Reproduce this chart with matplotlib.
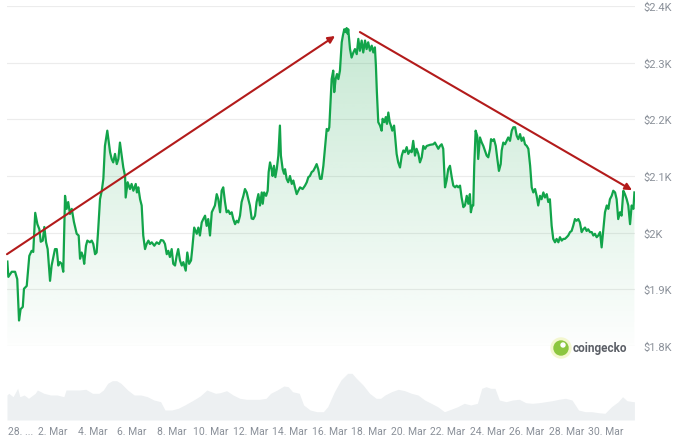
import matplotlib
matplotlib.use("Agg")
import matplotlib.pyplot as plt
import matplotlib.transforms as mtransforms
import numpy as np
from matplotlib.colors import to_rgb
from matplotlib.patches import Ellipse

# price, hourly-ish samples: day offset from 28 Feb 00:00, USD
days = [
    -0.31, -0.26, -0.09, 0.08, 0.19, 0.28, 0.36, 0.47, 0.53, 0.67,
    0.80, 0.92, 1.00, 1.10, 1.21, 1.31, 1.38, 1.48, 1.56, 1.65,
    1.73, 1.85, 1.93, 2.02, 2.10, 2.19, 2.27, 2.35, 2.44, 2.52,
    2.61, 2.69, 2.77, 2.86, 2.95, 3.06, 3.20, 3.30, 3.37, 3.45,
    3.53, 3.58, 3.67, 3.74, 3.87, 3.96, 4.04, 4.13, 4.21, 4.29,
    4.38, 4.47, 4.55, 4.63, 4.75, 4.89, 4.97, 5.05, 5.14, 5.23,
    5.31, 5.39, 5.48, 5.56, 5.65, 5.68, 5.78, 5.90, 5.98, 6.07,
    6.19, 6.25, 6.32, 6.41, 6.49, 6.57, 6.66, 6.74, 6.83, 6.91,
    7.00, 7.13, 7.25, 7.37, 7.47, 7.58, 7.67, 7.76, 7.84, 7.92,
    8.01, 8.09, 8.18, 8.26, 8.34, 8.43, 8.52, 8.60, 8.72, 8.80,
    8.89, 8.99, 9.05, 9.15, 9.28, 9.36, 9.44, 9.53, 9.61, 9.70,
    9.78, 9.86, 9.95, 10.04, 10.12, 10.20, 10.29, 10.37, 10.46, 10.54,
    10.62, 10.71, 10.79, 10.88, 10.96, 11.05, 11.13, 11.22, 11.30, 11.38,
    11.47, 11.55, 11.64, 11.72, 11.81, 11.89, 11.97, 12.06, 12.14, 12.23,
    12.31, 12.40, 12.48, 12.57, 12.62, 12.69, 12.79, 12.87, 12.92, 12.99,
    13.07, 13.12, 13.19, 13.26, 13.33, 13.41, 13.49, 13.54, 13.63, 13.70,
    13.75, 13.83, 13.91, 14.00, 14.09, 14.17, 14.25, 14.34, 14.42, 14.51,
    14.64, 14.76, 14.85, 14.93, 15.01, 15.10, 15.18, 15.27, 15.35, 15.43,
    15.52, 15.60, 15.69, 15.77, 15.86, 15.94, 15.99, 16.06, 16.11, 16.19,
    16.24, 16.31, 16.38, 16.45, 16.53, 16.62, 16.68, 16.75, 16.82, 16.87,
    16.92, 16.95, 17.04, 17.12, 17.21, 17.29, 17.38, 17.46, 17.54, 17.63,
    17.71, 17.80, 17.88, 17.96, 18.05, 18.14, 18.22, 18.30, 18.35, 18.40,
    18.47, 18.56, 18.64, 18.69, 18.78, 18.85, 18.91, 18.98, 19.05, 19.11,
    19.18, 19.27, 19.32, 19.40, 19.48, 19.57, 19.66, 19.74, 19.82, 19.91,
    19.99, 20.08, 20.16, 20.24, 20.33, 20.41, 20.50, 20.58, 20.67, 20.75,
    20.84, 20.92, 21.09, 21.26, 21.34, 21.43, 21.51, 21.59, 21.68, 21.76,
    21.85, 21.93, 22.01, 22.10, 22.19, 22.27, 22.36, 22.44, 22.52, 22.61,
    22.69, 22.78, 22.86, 22.95, 23.03, 23.11, 23.16, 23.23, 23.28, 23.33,
    23.40, 23.48, 23.53, 23.62, 23.71, 23.79, 23.87, 23.96, 24.04, 24.13,
    24.18, 24.26, 24.33, 24.42, 24.50, 24.58, 24.67, 24.72, 24.80, 24.89,
    24.97, 25.05, 25.14, 25.23, 25.31, 25.40, 25.48, 25.56, 25.65, 25.73,
    25.82, 25.90, 25.99, 26.07, 26.16, 26.24, 26.32, 26.41, 26.49, 26.57,
    26.66, 26.74, 26.83, 26.91, 27.00, 27.08, 27.16, 27.25, 27.33, 27.42,
    27.50, 27.59, 27.67, 27.76, 27.84, 27.92, 28.01, 28.09, 28.18, 28.26,
    28.34, 28.43, 28.51, 28.60, 28.68, 28.77, 28.85, 28.94, 29.02, 29.10,
    29.19, 29.28, 29.36, 29.44, 29.53, 29.61, 29.70, 29.78, 29.87, 29.95,
    30.04, 30.12, 30.20, 30.29, 30.37, 30.46, 30.54, 30.62, 30.71, 30.79,
    30.88, 30.96, 31.05, 31.13, 31.22, 31.30, 31.39, 31.44,
]
prices = [
    1949, 1922, 1931, 1931, 1918, 1845, 1865, 1869, 1901, 1906,
    1959, 1968, 1966, 2035, 2015, 2006, 1984, 1986, 2010, 1983,
    1971, 1915, 1942, 1957, 1971, 1971, 1942, 1948, 1945, 1931,
    2065, 2042, 2054, 2033, 2042, 2019, 1998, 1995, 1954, 1965,
    1957, 1945, 1977, 1986, 1983, 1986, 1980, 1962, 1965, 2006,
    2059, 2074, 2095, 2153, 2180, 2142, 2130, 2124, 2139, 2121,
    2130, 2159, 2136, 2115, 2100, 2062, 2089, 2077, 2086, 2074,
    2086, 2071, 2080, 2059, 2048, 1995, 1971, 1980, 1986, 1980,
    1983, 1977, 1983, 1980, 1987, 1986, 1980, 1962, 1968, 1957,
    1971, 1945, 1942, 1959, 1971, 1951, 1942, 1948, 1933, 1965,
    1945, 1951, 1971, 2009, 1998, 2009, 1995, 2018, 2024, 2030,
    2012, 2024, 1995, 2036, 2042, 2048, 2068, 2059, 2036, 2074,
    2080, 2054, 2036, 2039, 2033, 2036, 2024, 2015, 2021, 2018,
    2030, 2054, 2065, 2077, 2071, 2059, 2048, 2025, 2024, 2030,
    2054, 2068, 2048, 2071, 2051, 2071, 2065, 2074, 2107, 2124,
    2112, 2100, 2118, 2098, 2112, 2136, 2189, 2136, 2112, 2104,
    2112, 2095, 2089, 2100, 2086, 2092, 2080, 2068, 2074, 2080,
    2077, 2083, 2089, 2098, 2100, 2107, 2109, 2115, 2121, 2112,
    2095, 2095, 2118, 2148, 2183, 2180, 2186, 2236, 2271, 2286,
    2248, 2271, 2280, 2271, 2286, 2336, 2348, 2359, 2354, 2361,
    2351, 2359, 2324, 2309, 2318, 2324, 2315, 2342, 2321, 2339,
    2318, 2339, 2324, 2336, 2321, 2330, 2318, 2327, 2295, 2248,
    2195, 2189, 2180, 2201, 2195, 2204, 2192, 2212, 2195, 2189,
    2180, 2189, 2171, 2139, 2124, 2115, 2136, 2145, 2142, 2151,
    2139, 2145, 2142, 2162, 2136, 2148, 2139, 2124, 2133, 2153,
    2148, 2153, 2155, 2156, 2159, 2153, 2148, 2153, 2156, 2148,
    2080, 2092, 2112, 2118, 2098, 2083, 2080, 2083, 2080, 2083,
    2062, 2045, 2048, 2065, 2051, 2068, 2036, 2048, 2048, 2118,
    2180, 2171, 2130, 2168, 2159, 2153, 2145, 2136, 2133, 2148,
    2165, 2162, 2165, 2153, 2130, 2109, 2121, 2145, 2159, 2156,
    2162, 2168, 2162, 2180, 2186, 2186, 2171, 2165, 2174, 2162,
    2168, 2156, 2153, 2148, 2118, 2080, 2071, 2077, 2065, 2048,
    2065, 2059, 2071, 2062, 2068, 2054, 2059, 2012, 1989, 1983,
    1989, 1983, 1992, 1986, 1989, 1989, 1992, 1995, 2001, 2003,
    2012, 2024, 2021, 2024, 2018, 2001, 2006, 2009, 2003, 2006,
    2001, 2001, 1995, 1998, 1992, 1995, 2001, 1974, 2006, 2036,
    2048, 2042, 2059, 2065, 2074, 2071, 2059, 2024, 2036, 2030,
    2074, 2068, 2059, 2048, 2015, 2048, 2042, 2071,
]

# trading volume (relative units, no axis shown)
vol_days = [
    -0.33, -0.24, -0.02, 0.21, 0.32, 0.54, 0.76, 1.10, 1.21, 1.54,
    1.88, 2.21, 2.55, 2.66, 2.99, 3.33, 3.66, 4.00, 4.33, 4.55,
    4.77, 5.00, 5.22, 5.44, 5.78, 6.11, 6.45, 6.78, 7.11, 7.45,
    7.67, 8.01, 8.34, 8.67, 9.12, 9.45, 9.79, 10.01, 10.23, 10.46,
    10.79, 11.12, 11.46, 11.79, 12.13, 12.46, 12.79, 13.02, 13.35, 13.69,
    13.91, 14.13, 14.47, 14.69, 15.02, 15.36, 15.69, 15.91, 16.25, 16.58,
    16.92, 17.14, 17.36, 17.70, 18.03, 18.36, 18.59, 18.81, 19.14, 19.48,
    19.81, 20.15, 20.48, 20.82, 21.15, 21.48, 21.82, 22.15, 22.49, 22.82,
    23.15, 23.49, 23.71, 23.93, 24.16, 24.38, 24.60, 24.94, 25.27, 25.61,
    25.94, 26.27, 26.61, 26.94, 27.28, 27.61, 27.95, 28.28, 28.61, 28.95,
    29.28, 29.62, 29.95, 30.28, 30.62, 30.84, 31.06, 31.40, 31.44,
]
volume = [
    25, 26.7, 23.3, 31.7, 23.3, 25, 21.7, 26.7, 30, 26.7,
    25, 25, 23.3, 30, 30, 30, 30.7, 26.7, 26.7, 30,
    36.7, 39.3, 39.3, 36.7, 30, 25, 25, 23.3, 20, 18.3,
    10, 10, 11.7, 15, 20, 24, 30, 28.3, 26.7, 27.3,
    29.3, 25, 21.7, 20.7, 20.7, 20.7, 21.7, 26.7, 30, 34,
    33.3, 28.3, 26.7, 15, 10, 8.3, 8.3, 13.3, 28.3, 40,
    46.7, 46.7, 41.7, 35, 26.7, 21.7, 21.7, 25, 28.3, 30.7,
    29.3, 26.7, 25, 20, 16.7, 13.3, 8.3, 10.7, 13.3, 16.7,
    15, 16.7, 31.7, 33.3, 31.7, 31.7, 20, 18.3, 20, 20.7,
    17.3, 16.7, 17.3, 18.3, 19.3, 20.7, 21.7, 20, 10, 8.3,
    8.3, 7.3, 6.7, 13.3, 18.3, 23.3, 19.3, 18.3, 18.3,
]

tick_days = list(range(0, 31, 2))
tick_labels = ["28. ..."] + [f"{d}. Mar" for d in range(2, 31, 2)]
price_ticks = [1800, 1900, 2000, 2100, 2200, 2300, 2400]
price_labels = ["$1.8K", "$1.9K", "$2K", "$2.1K", "$2.2K", "$2.3K", "$2.4K"]

# hand-drawn trend arrows (day, price)
arrow_up = [(-0.33, 1962), (16.28, 2347)]
arrow_down = [(17.54, 2354), (31.32, 2075)]

GREEN = "#12a44a"
RED = "#b31b1b"
GRAY = "#8a9099"
XMIN, XMAX = -0.329, 31.47

plt.rcParams["font.family"] = ["Roboto", "DejaVu Sans"]

fig = plt.figure(figsize=(6.86, 4.39), dpi=100)
fig.patch.set_facecolor("white")

ax = fig.add_axes([7 / 686, 92 / 439, 628 / 686, 340 / 439])
poly = ax.fill_between(days, prices, 1800, color="none", lw=0)
grad = np.zeros((256, 1, 4))
grad[..., :3] = to_rgb("#16a34a")
grad[:, 0, 3] = np.linspace(0.01, 0.26, 256)
im = ax.imshow(grad, extent=[XMIN, XMAX, 1800, 2400], origin="lower",
               aspect="auto", zorder=1, interpolation="bilinear")
im.set_clip_path(poly.get_paths()[0], transform=ax.transData)
ax.plot(days, prices, color=GREEN, lw=1.6, zorder=3, solid_joinstyle="round")

for (x0, y0), (x1, y1) in [arrow_up, arrow_down]:
    ax.annotate("", xy=(x1, y1), xytext=(x0, y0),
                arrowprops=dict(arrowstyle="-|>", color=RED, lw=1.5,
                                mutation_scale=10, shrinkA=0, shrinkB=0),
                zorder=4)

ax.set_xlim(XMIN, XMAX)
ax.set_ylim(1800, 2400)
ax.set_yticks(price_ticks)
ax.set_yticklabels(price_labels)
ax.yaxis.tick_right()
ax.tick_params(axis="y", length=0, pad=6, labelsize=8, labelcolor=GRAY)
ax.set_xticks([])
ax.yaxis.grid(True, color="#ececec", lw=0.8)
ax.set_axisbelow(True)
for s in ax.spines.values():
    s.set_visible(False)
ax.patch.set_alpha(0)

vax = fig.add_axes([7 / 686, 18 / 439, 628 / 686, 60 / 439])
vax.fill_between(vol_days, volume, 0, color="#edf0f2", lw=0)
vax.set_xlim(XMIN, XMAX)
vax.set_ylim(0, 60)
vax.set_yticks([])
vax.set_xticks(tick_days)
vax.set_xticklabels(tick_labels)
vax.tick_params(axis="x", length=0, pad=4, labelsize=7.5, labelcolor=GRAY)
# first label is pushed inward so it is not clipped at the left edge
first = vax.get_xticklabels()[0]
first.set_transform(first.get_transform() +
                    mtransforms.ScaledTranslation(5 / 72, 0, fig.dpi_scale_trans))
for s in vax.spines.values():
    s.set_visible(False)
vax.patch.set_alpha(0)

# coingecko watermark
fig.add_artist(Ellipse((561 / 686, 1 - 349 / 439), 20 / 686, 20 / 439,
                       transform=fig.transFigure, color="#f3f7cf", zorder=5))
fig.add_artist(Ellipse((561 / 686, 1 - 349 / 439), 14 / 686, 14 / 439,
                       transform=fig.transFigure, color="#8cc63f", zorder=6))
fig.add_artist(Ellipse((563 / 686, 1 - 346 / 439), 4 / 686, 4 / 439,
                       transform=fig.transFigure, color="white", zorder=7))
fig.text(573 / 686, 1 - 349 / 439, "coingecko", fontsize=8.5,
         fontweight="bold", color="#5b5f66", va="center", ha="left")

fig.savefig("out.png", dpi=100)
